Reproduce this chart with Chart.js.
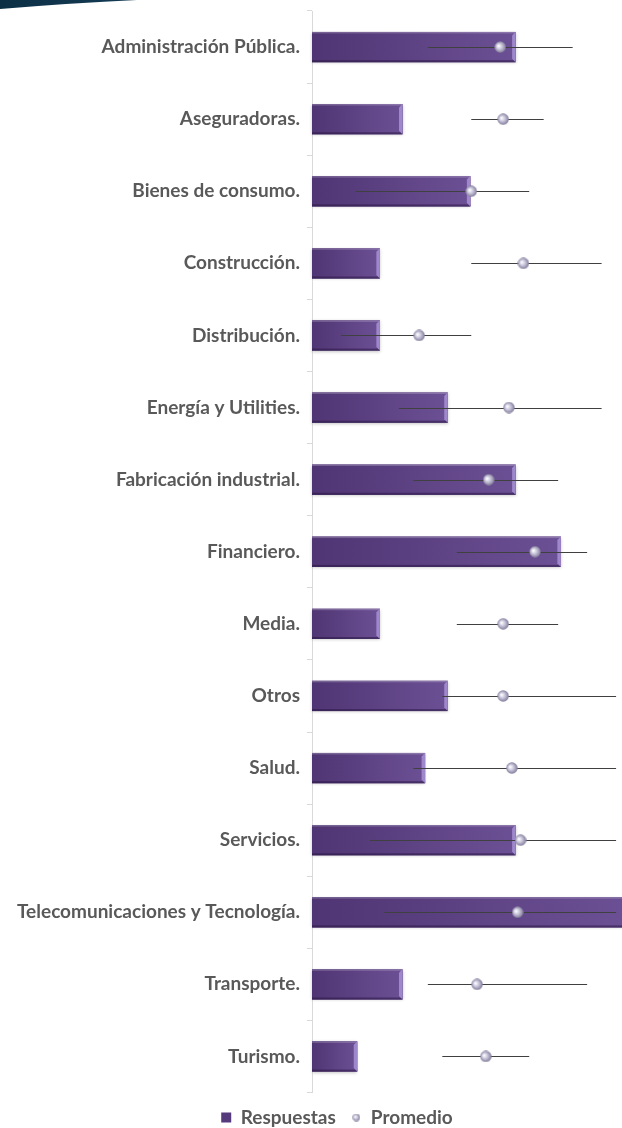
<!DOCTYPE html>
<html>
<head>
<meta charset="utf-8">
<script src="https://cdn.jsdelivr.net/npm/chart.js@4.4.1/dist/chart.umd.min.js"></script>
<style>
  html, body { margin: 0; padding: 0; background: #ffffff; overflow: hidden; width: 622px; height: 1128px; }
  #wrap { position: relative; width: 674px; height: 1137px; }
  #c { display: block; }
  #band { position: absolute; left: 0; top: 0; }
</style>
</head>
<body>
<div id="wrap">
  <canvas id="c" width="674" height="1137"></canvas>
  <svg id="band" width="140" height="12" viewBox="0 0 140 12">
    <defs>
      <linearGradient id="bandGrad" x1="0" x2="1" y1="0" y2="0">
        <stop offset="0" stop-color="#0c2f45"/>
        <stop offset="1" stop-color="#143c55"/>
      </linearGradient>
    </defs>
    <path d="M0,0 L137,0 Q72,3 0,9 Z" fill="url(#bandGrad)"/>
  </svg>
</div>
<script>
// Sectores encuestados
const categorias = [
  'Administración Pública.',
  'Aseguradoras.',
  'Bienes de consumo.',
  'Construcción.',
  'Distribución.',
  'Energía y Utilities.',
  'Fabricación industrial.',
  'Financiero.',
  'Media.',
  'Otros',
  'Salud.',
  'Servicios.',
  'Telecomunicaciones y Tecnología.',
  'Transporte.',
  'Turismo.'
];

// Número de respuestas por sector
const respuestas = [9, 4, 7, 3, 3, 6, 9, 11, 3, 6, 5, 9, 14, 4, 2];

// Puntuación media (escala 0-10) y su rango mínimo-máximo
const promedio    = [6.0, 6.1, 5.0, 6.8, 3.2, 6.3, 5.6, 7.2, 6.1, 6.1, 6.4, 6.7, 6.6, 5.2, 5.5];
const promedioMin = [3.5, 5.0, 1.0, 5.0, 0.5, 2.5, 3.0, 4.5, 4.5, 4.0, 3.0, 1.5, 2.0, 3.5, 4.0];
const promedioMax = [8.5, 7.5, 7.0, 9.5, 5.0, 9.5, 8.0, 9.0, 8.0, 10.0, 10.0, 10.0, 10.0, 9.0, 7.0];

const FONT = 'Lato, "Open Sans", sans-serif';
const TEXT = '#595959';

// Small shaded sphere used as the marker for the average
function makeDot(d) {
  const c = document.createElement('canvas');
  c.width = d; c.height = d;
  const g = c.getContext('2d');
  const r = d / 2;
  const grad = g.createRadialGradient(r * 0.7, r * 0.8, r * 0.05, r, r, r);
  grad.addColorStop(0, '#ffffff');
  grad.addColorStop(0.4, '#cfcbe0');
  grad.addColorStop(1, '#7c7694');
  g.fillStyle = grad;
  g.beginPath();
  g.arc(r, r, r - 0.3, 0, Math.PI * 2);
  g.fill();
  return c;
}
const dotChart = makeDot(12);
const dotLegend = makeDot(8);

// Bevelled, shaded finish for the bars, drawn over each bar element
const bevelBars = {
  id: 'bevelBars',
  afterDatasetDraw(chart, args) {
    if (args.index !== 0) return;
    const ctx = chart.ctx;
    args.meta.data.forEach(bar => {
      const p = bar.getProps(['x', 'y', 'base', 'height'], true);
      const l = Math.min(p.base, p.x), r = Math.max(p.base, p.x);
      const t = p.y - p.height / 2, b = p.y + p.height / 2;
      ctx.save();
      // soft drop shadow + body gradient
      ctx.shadowColor = 'rgba(0,0,0,0.22)';
      ctx.shadowBlur = 3;
      ctx.shadowOffsetY = 1;
      const g = ctx.createLinearGradient(l, 0, r, 0);
      g.addColorStop(0, '#4f3573');
      g.addColorStop(1, '#6c5095');
      ctx.fillStyle = g;
      ctx.fillRect(l, t, r - l, b - t);
      ctx.shadowColor = 'transparent';
      // top highlight
      ctx.fillStyle = 'rgba(255,255,255,0.22)';
      ctx.fillRect(l, t, r - l, 1.5);
      // bottom dark edge
      ctx.fillStyle = 'rgba(35,18,60,0.5)';
      ctx.fillRect(l, b - 2, r - l, 2);
      // right bevel
      const w = 3.5;
      ctx.beginPath();
      ctx.moveTo(r - w, t + w);
      ctx.lineTo(r, t);
      ctx.lineTo(r, b);
      ctx.lineTo(r - w, b - w);
      ctx.closePath();
      ctx.fillStyle = '#9f87cc';
      ctx.fill();
      ctx.restore();
    });
  }
};

// Min-max range line behind each average marker
const rangeLines = {
  id: 'rangeLines',
  beforeDatasetDraw(chart, args) {
    if (args.index !== 1) return;
    const ctx = chart.ctx;
    const xs = chart.scales.x2, ys = chart.scales.y;
    ctx.save();
    ctx.strokeStyle = '#404040';
    ctx.lineWidth = 1.1;
    promedioMin.forEach((mn, i) => {
      const y = Math.round(ys.getPixelForValue(i)) + 0.5;
      ctx.beginPath();
      ctx.moveTo(xs.getPixelForValue(mn), y);
      ctx.lineTo(xs.getPixelForValue(promedioMax[i]), y);
      ctx.stroke();
    });
    ctx.restore();
  }
};

new Chart(document.getElementById('c'), {
  type: 'bar',
  data: {
    labels: categorias,
    datasets: [
      {
        label: 'Respuestas',
        data: respuestas,
        backgroundColor: '#5a3d82',
        borderWidth: 0,
        barPercentage: 0.42,
        categoryPercentage: 1,
        xAxisID: 'x',
        order: 1,
        pointStyle: 'rect'
      },
      {
        type: 'line',
        label: 'Promedio',
        data: promedio,
        xAxisID: 'x2',
        yAxisID: 'y',
        indexAxis: 'y',
        showLine: false,
        pointStyle: dotChart,
        pointRadius: 6,
        backgroundColor: '#a9a4bf',
        borderColor: '#a9a4bf',
        order: 0
      }
    ]
  },
  options: {
    indexAxis: 'y',
    responsive: false,
    devicePixelRatio: 1,
    animation: false,
    layout: { autoPadding: false, padding: { top: 11, right: 0, bottom: 0, left: 0 } },
    scales: {
      x: { display: false, min: 0, max: 16 },
      x2: { display: false, axis: 'x', position: 'bottom', min: -0.5, max: 12 },
      y: {
        grid: { display: true, drawOnChartArea: false, drawTicks: true, tickLength: 5, offset: true, color: '#d9d9d9', lineWidth: 1 },
        border: { display: true, color: '#d9d9d9', width: 1 },
        ticks: { color: TEXT, font: { family: FONT, weight: 'bold', size: 19 }, padding: 7, autoSkip: false },
        afterFit(s) { s.width = 312; s.paddingTop = 0; s.paddingBottom = 0; }
      }
    },
    plugins: {
      tooltip: { enabled: false },
      legend: {
        position: 'bottom',
        labels: {
          color: TEXT,
          font: { family: FONT, weight: 'bold', size: 19 },
          usePointStyle: true,
          boxWidth: 10,
          boxHeight: 10,
          padding: 15.5,
          sort: (a, b) => a.datasetIndex - b.datasetIndex,
          generateLabels(chart) {
            const items = Chart.defaults.plugins.legend.labels.generateLabels(chart);
            items.forEach(it => {
              if (it.datasetIndex === 1) it.pointStyle = dotLegend;
              if (it.datasetIndex === 0) { it.fillStyle = '#553a7c'; it.strokeStyle = '#553a7c'; it.lineWidth = 0; }
            });
            return items;
          }
        }
      }
    }
  },
  plugins: [bevelBars, rangeLines]
});
</script>
</body>
</html>
